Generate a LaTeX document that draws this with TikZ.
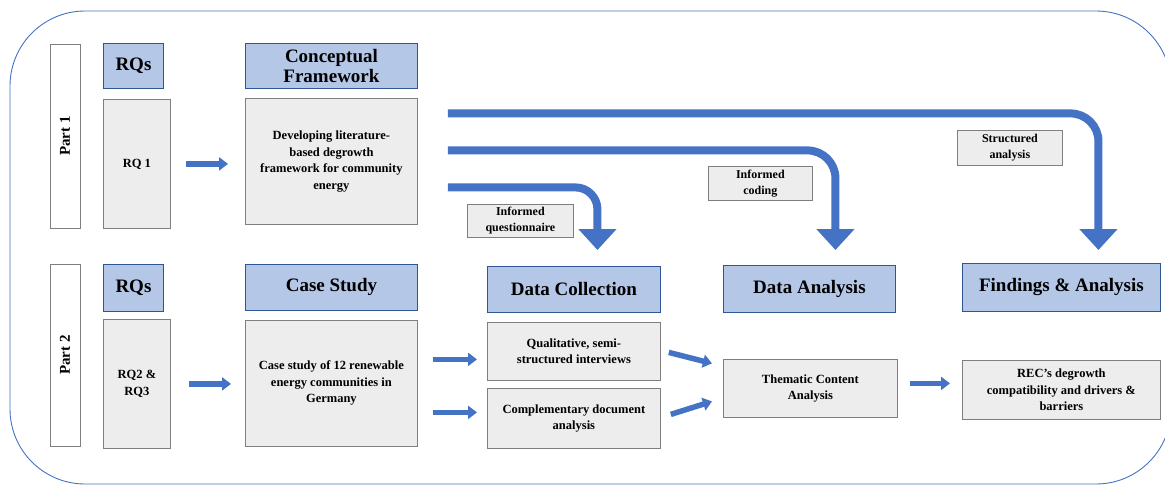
\documentclass[tikz,border=0pt]{standalone}
\usepackage{fontspec}
\setmainfont{Liberation Serif}
\usetikzlibrary{arrows.meta,calc}
\definecolor{hdrfill}{HTML}{B4C7E7}
\definecolor{hdrdraw}{HTML}{2F5597}
\definecolor{bodyfill}{HTML}{EDEDED}
\definecolor{bodydraw}{HTML}{7F7F7F}
\definecolor{arrowblue}{HTML}{4472C4}
\begin{document}
\begin{tikzpicture}[x=1pt,y=-1pt,
  hdr/.style={draw=hdrdraw,fill=hdrfill,line width=0.9pt,anchor=north west,inner sep=0pt,align=center,
    font=\fontsize{19}{21}\selectfont\bfseries},
  body/.style={draw=bodydraw,fill=bodyfill,line width=0.8pt,anchor=north west,inner sep=0pt,align=center,
    font=\fontsize{12.5}{16.5}\selectfont\bfseries},
  lbl/.style={body,font=\fontsize{12}{16}\selectfont\bfseries},
  partbox/.style={draw=bodydraw,fill=white,line width=0.8pt,anchor=center,inner sep=0pt,rotate=90,
    minimum height=30pt,font=\fontsize{15}{16}\selectfont\bfseries},
  smallarrow/.style={draw=arrowblue,line width=5.5pt,-{Triangle[width=13pt,length=9pt]}},
  bigarrow/.style={draw=arrowblue,line width=8pt,rounded corners=28pt,-{Triangle[width=37pt,length=21pt]}},
  outline/.style={draw=arrowblue,line width=0.9pt,rounded corners=75pt}
]
\useasboundingbox (0,0) rectangle (1165,485);
\draw[outline] (10,11) rectangle (1171,484);

% Part 1
\node[partbox,minimum width=184pt] (part1) at (65,136) {Part 1};
\node[hdr,minimum width=60pt,minimum height=45pt] (rq1h) at (103,43) {RQs};
\node[body,minimum width=67pt,minimum height=129pt] (rq1b) at (103,99) {RQ 1};
\node[hdr,minimum width=172pt,minimum height=45pt] (cfh) at (245,43) {Conceptual\\[-1pt]Framework};
\node[body,minimum width=172pt,minimum height=126pt] (cfb) at (245,98) {Developing literature-\\based degrowth\\framework for community\\energy};
\node[lbl,minimum width=106pt,minimum height=33pt] (lblq) at (467,204) {Informed\\questionnaire};
\node[lbl,minimum width=104pt,minimum height=34pt] (lblc) at (708,166) {Informed\\coding};
\node[lbl,minimum width=105pt,minimum height=35pt] (lbls) at (957,130) {Structured\\analysis};

% Part 2
\node[partbox,minimum width=182pt] (part2) at (65,355) {Part 2};
\node[hdr,minimum width=60pt,minimum height=47pt] (rq2h) at (103,264) {RQs};
\node[body,minimum width=67pt,minimum height=129pt] (rq2b) at (103,319) {RQ2 \&\\RQ3};
\node[hdr,minimum width=172pt,minimum height=46pt] (csh) at (245,264) {Case Study};
\node[body,minimum width=172pt,minimum height=126pt] (csb) at (245,320) {Case study of 12 renewable\\energy communities in\\Germany};
\node[hdr,minimum width=173pt,minimum height=46pt] (dch) at (487,266) {Data Collection};
\node[body,minimum width=173pt,minimum height=58pt] (qual) at (487,322) {Qualitative, semi-\\structured interviews};
\node[body,minimum width=173pt,minimum height=60pt] (comp) at (487,388) {Complementary document\\analysis};
\node[hdr,minimum width=172pt,minimum height=47pt] (dah) at (723,265) {Data Analysis};
\node[body,minimum width=174pt,minimum height=58pt] (tca) at (723,359) {Thematic Content\\Analysis};
\node[hdr,minimum width=198pt,minimum height=48pt] (fah) at (962,263) {Findings \& Analysis};
\node[body,minimum width=198pt,minimum height=59pt] (rec) at (962,360) {REC’s degrowth\\compatibility and drivers \&\\barriers};

% small arrows
\draw[smallarrow,shorten <=15pt,shorten >=17pt] (rq1b.east) -- (cfb.west |- rq1b.east);
\draw[smallarrow,shorten <=18pt,shorten >=14pt] (rq2b.east) -- (csb.west |- rq2b.east);
\draw[smallarrow] ($(csb.east)+(15,-24)$) -- ($(qual.west)+(-10,8)$);
\draw[smallarrow] ($(csb.east)+(15,29)$) -- ($(comp.west)+(-10,-6)$);
\draw[smallarrow] ($(qual.east)+(8,1)$) -- ($(tca.west)+(-11,-25)$);
\draw[smallarrow] ($(comp.east)+(10,-4)$) -- ($(tca.west)+(-11,13)$);
\draw[smallarrow] ($(tca.east)+(12,-5)$) -- ($(rec.west)+(-12,-6.5)$);

% big arrows
\draw[bigarrow] ($(cfb.east)+(30,-48)$) -| ($(fah.north)+(37,-13)$);
\draw[bigarrow] ($(cfb.east)+(30,-11)$) -| ($(dah.north)+(26,-15)$);
\draw[bigarrow,rounded corners=22pt] ($(cfb.east)+(30,26)$) -| ($(dch.north)+(23.5,-16)$);
\end{tikzpicture}
\end{document}
